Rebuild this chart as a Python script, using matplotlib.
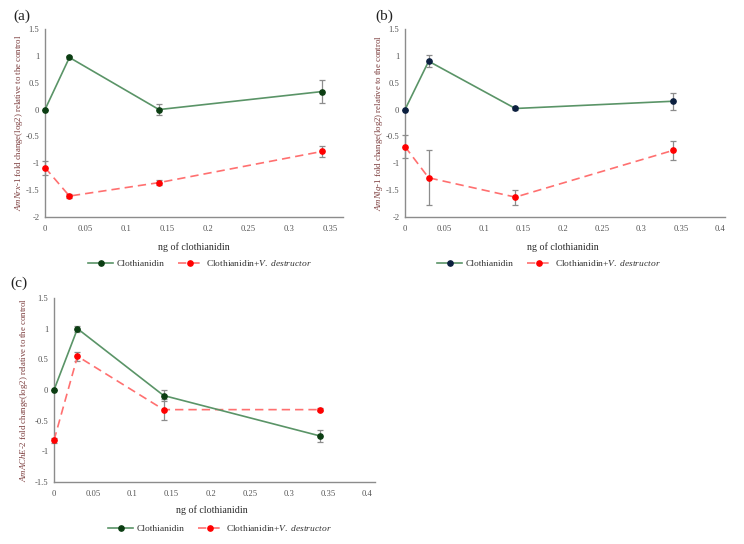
import matplotlib
matplotlib.use("Agg")
import matplotlib.pyplot as plt
from matplotlib.lines import Line2D

plt.rcParams['font.family'] = ['Liberation Serif', 'DejaVu Serif']
plt.rcParams['mathtext.fontset'] = 'custom'
plt.rcParams['mathtext.rm'] = 'Liberation Serif'
plt.rcParams['mathtext.it'] = 'Liberation Serif:italic'

# ---- data ----
doses = [0, 0.03, 0.14, 0.34]

a_clo = [0.0, 0.97, 0.0, 0.335]
a_clo_err = [0.0, 0.02, 0.11, 0.22]
a_var = [-1.08, -1.61, -1.36, -0.78]
a_var_err = [0.13, 0.03, 0.05, 0.11]

b_clo = [0.0, 0.90, 0.02, 0.155]
b_clo_err = [0.0, 0.11, 0.03, 0.16]
b_var = [-0.69, -1.27, -1.63, -0.76]
b_var_err = [0.21, 0.51, 0.14, 0.18]

c_clo = [0.0, 1.0, -0.09, -0.75]
c_clo_err = [0.0, 0.05, 0.09, 0.10]
c_var = [-0.82, 0.55, -0.32, -0.32]
c_var_err = [0.04, 0.07, 0.17, 0.03]

panel_labels = ['(a)', '(b)', '(c)']
genes = [('AmNrx', '1'), ('AmNlg', '1'), ('AmAChE', '2')]
xticks_a = [0, 0.05, 0.1, 0.15, 0.2, 0.25, 0.3, 0.35]
xticks_bc = [0, 0.05, 0.1, 0.15, 0.2, 0.25, 0.3, 0.35, 0.4]
yticks_ab = [-2, -1.5, -1, -0.5, 0, 0.5, 1, 1.5]
yticks_c = [-1.5, -1, -0.5, 0, 0.5, 1, 1.5]
xlabel = 'ng of clothianidin'
leg1 = 'Clothianidin'
leg2 = r'Clothianidin+$\mathit{V.\ destructor}$'

W, H = 744, 544
fig = plt.figure(figsize=(W / 100, H / 100), dpi=100)

green = '#5a9467'
red_line = '#ff7070'
red_mk = '#ff0000'
err_c = '#8c8c8c'
axis_c = '#8c8c8c'
tick_c = '#555555'
ylab_c = '#7a3a3a'


def px_axes(l, r, t, b):
    return fig.add_axes([l / W, 1 - b / H, (r - l) / W, (b - t) / H])


def style(ax, xt, yt, xlim, ylim):
    ax.set_xlim(*xlim)
    ax.set_ylim(*ylim)
    ax.set_xticks(xt)
    ax.set_yticks(yt)
    ax.set_xticklabels([f'{v:g}' for v in xt])
    ax.set_yticklabels([f'{v:g}' for v in yt])
    for s in ['top', 'right']:
        ax.spines[s].set_visible(False)
    for s in ['left', 'bottom']:
        ax.spines[s].set_color(axis_c)
        ax.spines[s].set_linewidth(1.0)
    ax.tick_params(length=0, labelsize=6.2, colors=tick_c)
    ax.tick_params(axis='y', pad=4)
    ax.tick_params(axis='x', pad=6)
    ax.patch.set_alpha(0)


def draw(ax, clo, clo_err, var, var_err, mk):
    for y, e, lc, ls, m, z in [(var, var_err, red_line, (0, (5, 3)), red_mk, 3),
                               (clo, clo_err, green, '-', mk, 4)]:
        cont = ax.errorbar(doses, y, yerr=e, color=lc, ls=ls, lw=1.2,
                           marker='o', ms=3.8, mfc=m, mec=m, ecolor=err_c, elinewidth=0.9,
                           capsize=2.5, capthick=0.9, zorder=z)
        for art in [cont.lines[0], *cont.lines[1], *cont.lines[2]]:
            art.set_clip_on(False)


def legend(cx, cy, mk):
    h1 = Line2D([], [], color=green, lw=1.2, marker='o', ms=3.8, mfc=mk, mec=mk)
    h2 = Line2D([], [], color=red_line, lw=1.2, ls=(0, (5, 3)), marker='o', ms=3.8,
                mfc=red_mk, mec=red_mk)
    fig.legend([h1, h2], [leg1, leg2], loc='center', bbox_to_anchor=(cx / W, 1 - cy / H),
               ncol=2, frameon=False, fontsize=6.8, handlelength=2.6, columnspacing=1.4,
               handletextpad=0.4, labelcolor='#333333')


def ylabel(x, y, gene):
    g, n = gene
    fig.text(x / W, 1 - y / H,
             rf'$\mathit{{{g}}}$-$\mathit{{{n}}}$ fold change(log2) relative to the control',
             rotation=90, ha='center', va='center', fontsize=6.3, color=ylab_c)


# (a)
ax = px_axes(45, 343, 29, 217)
draw(ax, a_clo, a_clo_err, a_var, a_var_err, '#0b3d12')
style(ax, xticks_a, yticks_ab, (0, 0.366), (-2, 1.5))
fig.text(13 / W, 1 - 16 / H, panel_labels[0], fontsize=11, va='center', ha='left', color='#222222')
ylabel(19, 123, genes[0])
fig.text(194 / W, 1 - 247 / H, xlabel, ha='center', va='center', fontsize=7.2, color='#2a2a2a')
legend(200, 263, '#0b3d12')

# (b)
ax = px_axes(405, 725, 29, 217)
draw(ax, b_clo, b_clo_err, b_var, b_var_err, '#0b1f3f')
style(ax, xticks_bc, yticks_ab, (0, 0.406), (-2, 1.5))
fig.text(375 / W, 1 - 16 / H, panel_labels[1], fontsize=11, va='center', ha='left', color='#222222')
ylabel(379, 123, genes[1])
fig.text(563 / W, 1 - 247 / H, xlabel, ha='center', va='center', fontsize=7.2, color='#2a2a2a')
legend(549, 263, '#0b1f3f')

# (c)
ax = px_axes(54, 375, 298, 482)
draw(ax, c_clo, c_clo_err, c_var, c_var_err, '#0b3d12')
style(ax, xticks_bc, yticks_c, (0, 0.41), (-1.5, 1.5))
fig.text(10 / W, 1 - 283 / H, panel_labels[2], fontsize=11, va='center', ha='left', color='#222222')
ylabel(24, 390, genes[2])
fig.text(212 / W, 1 - 510 / H, xlabel, ha='center', va='center', fontsize=7.2, color='#2a2a2a')
legend(220, 528, '#0b3d12')

fig.savefig('out.png', dpi=100)
